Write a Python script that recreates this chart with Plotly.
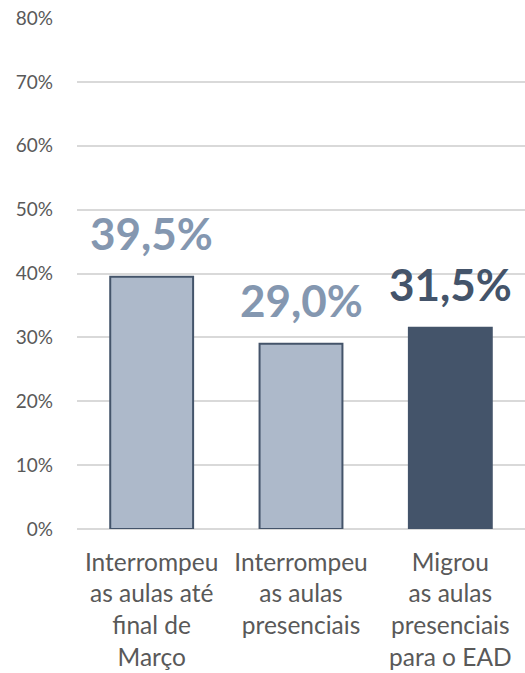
import plotly.graph_objects as go

# Categories (axis labels) and shares
categories = [
    "Interrompeu<br>as aulas até<br>final de<br>Março",
    "Interrompeu<br>as aulas<br>presenciais",
    "Migrou<br>as aulas<br>presenciais<br>para o EAD",
]
values = [0.395, 0.290, 0.315]
value_labels = ["39,5%", "29,0%", "31,5%"]

tick_values = [0, 0.1, 0.2, 0.3, 0.4, 0.5, 0.6, 0.7, 0.8]
tick_labels = ["0%", "10%", "20%", "30%", "40%", "50%", "60%", "70%", "80%"]

light_fill = "#ADB9CA"
dark_fill = "#44546A"
label_light = "#8497B0"

fills = [light_fill, light_fill, dark_fill]
label_colors = [label_light, label_light, dark_fill]

x_idx = list(range(len(categories)))

fig = go.Figure()
fig.add_trace(go.Bar(
    x=x_idx,
    y=values,
    width=0.555,
    marker=dict(color=fills, line=dict(color=dark_fill, width=2)),
    hoverinfo="skip",
))

for i, (v, lab, col) in enumerate(zip(values, value_labels, label_colors)):
    fig.add_annotation(
        x=i, y=v, text=f"<b>{lab}</b>", showarrow=False,
        yanchor="bottom", yshift=16,
        font=dict(family="Lato", size=44, color=col),
    )

fig.update_layout(
    width=525, height=673,
    margin=dict(l=77, r=0, t=18, b=144),
    plot_bgcolor="white", paper_bgcolor="white",
    showlegend=False,
    font=dict(family="Lato", color="#595959"),
)
fig.update_xaxes(
    tickmode="array", tickvals=x_idx, ticktext=categories,
    range=[-0.5, 2.5],
    showgrid=False, showline=False, zeroline=False,
    ticks="", tickfont=dict(size=24.5, color="#595959", family="Lato"),
    ticklabelstandoff=16, automargin=False,
)
fig.update_yaxes(
    range=[0, 0.8], tickmode="array", tickvals=tick_values, ticktext=tick_labels,
    showgrid=True, gridcolor="#D9D9D9", gridwidth=1.5,
    zeroline=True, zerolinecolor="#D9D9D9", zerolinewidth=1.5,
    showline=False, ticks="",
    tickfont=dict(size=19, color="#595959", family="Lato"),
    ticklabelstandoff=23, automargin=False,
)

fig.write_html("out.html")
